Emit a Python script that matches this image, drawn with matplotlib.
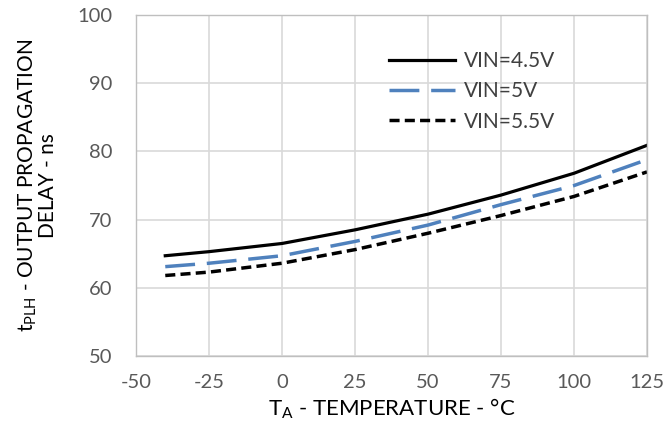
import matplotlib
matplotlib.use("Agg")
import matplotlib.pyplot as plt

temps = [-40, -25, 0, 25, 50, 75, 100, 125]
vin_45 = [64.7, 65.3, 66.5, 68.5, 70.8, 73.6, 76.8, 80.9]
vin_50 = [63.1, 63.6, 64.7, 66.8, 69.2, 72.2, 75.0, 78.8]
vin_55 = [61.8, 62.3, 63.6, 65.6, 68.0, 70.6, 73.4, 77.0]
xticks = [-50, -25, 0, 25, 50, 75, 100, 125]
yticks = [50, 60, 70, 80, 90, 100]

plt.rcParams['font.family'] = ['Lato', 'DejaVu Sans']
plt.rcParams['axes.unicode_minus'] = False

fig = plt.figure(figsize=(6.67, 4.33), dpi=100)
ax = fig.add_axes([0.204, 0.178, 0.766, 0.787])

ax.plot(temps, vin_45, color='black', lw=2.3, label='VIN=4.5V')
ax.plot(temps, vin_50, color='#4f81bd', lw=2.5, dashes=(8.6, 3.4), label='VIN=5V')
ax.plot(temps, vin_55, color='black', lw=2.5, dashes=(2.9, 1.5), label='VIN=5.5V')

ax.set_xlim(-50, 125)
ax.set_ylim(50, 100)
ax.set_xticks(xticks)
ax.set_yticks(yticks)
ax.grid(True, color='#d9d9d9', lw=1.2)
ax.set_axisbelow(True)
for s in ax.spines.values():
    s.set_color('#bfbfbf')
    s.set_linewidth(1.0)
ax.tick_params(length=0, labelsize=14.5, labelcolor='#595959')
ax.tick_params(axis='x', pad=13)
ax.tick_params(axis='y', pad=17)

ax.set_xlabel(r'$\mathregular{T_A}$ - TEMPERATURE - °C', fontsize=16, labelpad=4)
ax.set_ylabel('$\\mathregular{t_{PLH}}$ - OUTPUT PROPAGATION\nDELAY - ns',
              fontsize=15, linespacing=0.95, labelpad=14)

leg = ax.legend(loc='upper left', bbox_to_anchor=(0.458, 0.95), frameon=False,
                fontsize=15, handlelength=3.2, handletextpad=0.4, labelspacing=0.5)
for t in leg.get_texts():
    t.set_color('#404040')

fig.savefig('out.png', dpi=100)
